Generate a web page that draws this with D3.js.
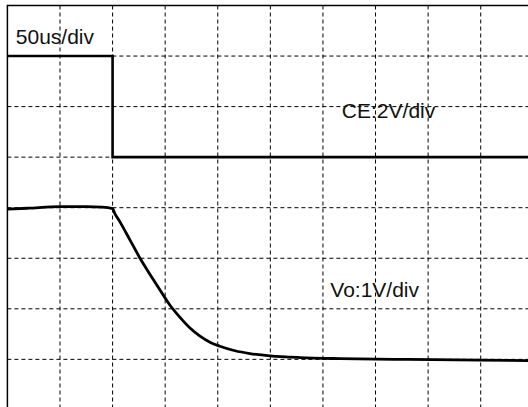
<!DOCTYPE html>
<html>
<head>
<meta charset="utf-8">
<script src="https://cdn.jsdelivr.net/npm/d3@7/dist/d3.min.js"></script>
<style>
  html, body { margin: 0; padding: 0; background: #fff; overflow: hidden; }
  svg { display: block; }
  text { font-family: "Liberation Sans", Arial, Helvetica, sans-serif; fill: #111; }
</style>
</head>
<body>
<svg id="scope" width="528" height="407"></svg>
<script>
// Timebase: 50 us/div, 10 horizontal divisions
const timeDivs = d3.range(0, 11);          // division indices along time
const voltDivs = d3.range(0, 9);           // division indices along amplitude
const usPerDiv = 50;

// CE channel (2 V/div), ground on division 3 from the top
const ceTime  = [0, 100, 100, 500];
const ceVolts = [4, 4, 0, 0];

// Vo channel (1 V/div), ground on division 7 from the top
const voTime  = [0, 20, 50, 75, 90, 100, 102.3, 107, 116.6, 126.1, 135.6, 145.1, 154.6, 164.1, 173.6, 183.1, 192.6, 202.1, 216.4, 230.6, 249.7, 278.2, 316.2, 373.2, 449.3, 500];
const voVolts = [2.97, 2.99, 3.02, 3.02, 3.01, 2.98, 2.88, 2.72, 2.36, 2.0, 1.68, 1.37, 1.07, 0.83, 0.62, 0.46, 0.34, 0.26, 0.17, 0.115, 0.07, 0.035, 0.014, 0.0, -0.014, -0.025];

// Channel labels
const labels = [
  { text: "50us/div",  t: 8,   div: 0.77 },
  { text: "CE:2V/div", t: 318, div: 2.22 },
  { text: "Vo:1V/div", t: 307, div: 5.76 }
];

const svg = d3.select("#scope");
const frameLeft = 7.4, frameTop = 5.5, divW = 52.59, divH = 50.55;

const x = d3.scaleLinear().domain([0, 10 * usPerDiv]).range([frameLeft, frameLeft + 10 * divW]);
const yDiv = d3.scaleLinear().domain([0, 8]).range([frameTop, frameTop + 8 * divH]);

// per-channel amplitude scales: division row of ground and volts per division
const yCE = d3.scaleLinear().domain([0, 2]).range([yDiv(3), yDiv(2)]);
const yVo = d3.scaleLinear().domain([0, 1]).range([yDiv(7), yDiv(6)]);

// graticule
const grid = svg.append("g")
  .attr("stroke", "#000")
  .attr("stroke-width", 1)
  .attr("stroke-dasharray", "4,3")
  .attr("fill", "none");

grid.selectAll("line.v")
  .data(timeDivs.slice(1, 10))
  .join("line")
  .attr("class", "v")
  .attr("x1", d => x(d * usPerDiv)).attr("x2", d => x(d * usPerDiv))
  .attr("y1", yDiv(0)).attr("y2", yDiv(8));

grid.selectAll("line.h")
  .data(voltDivs.slice(1, 8))
  .join("line")
  .attr("class", "h")
  .attr("x1", x(0)).attr("x2", x(10 * usPerDiv))
  .attr("y1", d => yDiv(d)).attr("y2", d => yDiv(d));

// screen frame
svg.append("rect")
  .attr("x", x(0)).attr("y", yDiv(0))
  .attr("width", x(10 * usPerDiv) - x(0))
  .attr("height", yDiv(8) - yDiv(0))
  .attr("fill", "none")
  .attr("stroke", "#000")
  .attr("stroke-width", 1.5);

// traces
const ceLine = d3.line()
  .x((d, i) => x(ceTime[i]))
  .y(d => yCE(d));

svg.append("path")
  .datum(ceVolts)
  .attr("d", ceLine)
  .attr("fill", "none")
  .attr("stroke", "#000")
  .attr("stroke-width", 2.6);

const voLine = d3.line()
  .x((d, i) => x(voTime[i]))
  .y(d => yVo(d))
  .curve(d3.curveMonotoneX);

svg.append("path")
  .datum(voVolts)
  .attr("d", voLine)
  .attr("fill", "none")
  .attr("stroke", "#000")
  .attr("stroke-width", 2.8)
  .attr("stroke-linejoin", "round");

svg.selectAll("text.lbl")
  .data(labels)
  .join("text")
  .attr("class", "lbl")
  .attr("x", d => x(d.t))
  .attr("y", d => yDiv(d.div))
  .attr("font-size", 21)
  .text(d => d.text);
</script>
</body>
</html>
